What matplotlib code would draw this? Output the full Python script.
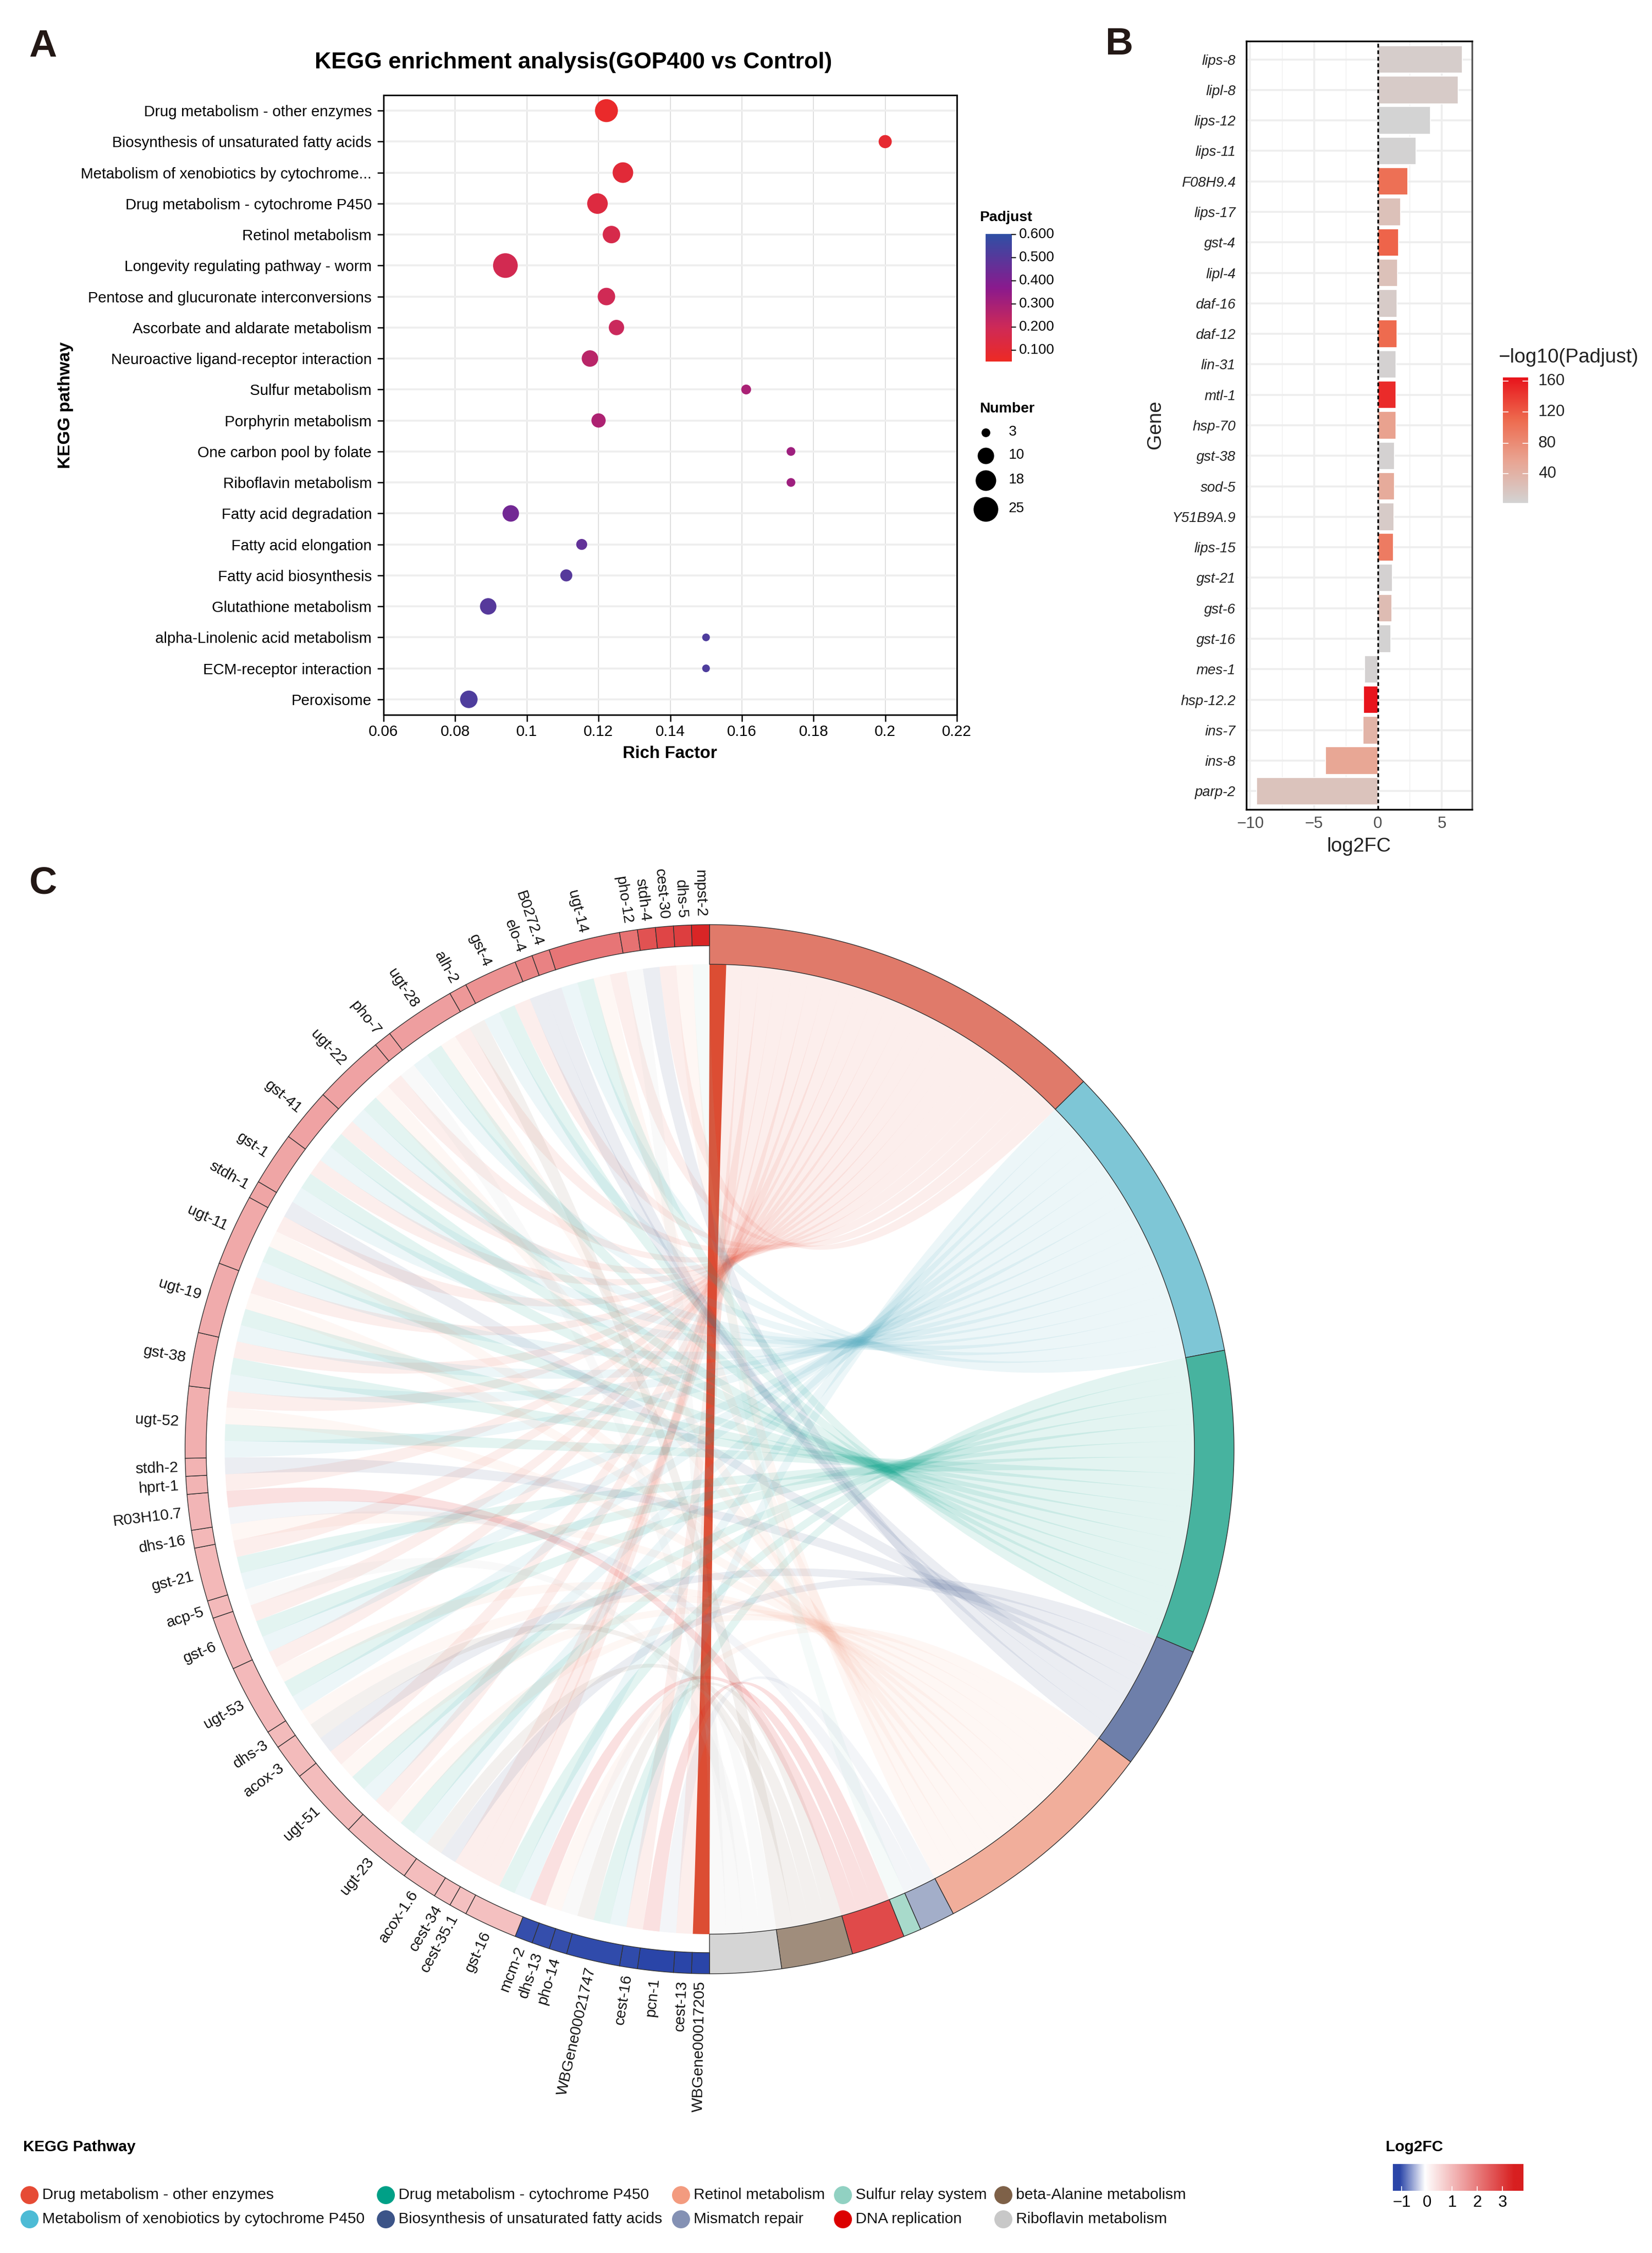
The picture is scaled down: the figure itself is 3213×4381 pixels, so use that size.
import numpy as np
import matplotlib
matplotlib.use("Agg")
import matplotlib.pyplot as plt
from matplotlib.colors import LinearSegmentedColormap, Normalize
from matplotlib.patches import PathPatch, Polygon
from matplotlib.path import Path

plt.rcParams["font.family"] = ["Liberation Sans", "DejaVu Sans"]

W, H = 3213, 4381

# panel A
kegg_terms = [
    "Drug metabolism - other enzymes", "Biosynthesis of unsaturated fatty acids",
    "Metabolism of xenobiotics by cytochrome...", "Drug metabolism - cytochrome P450",
    "Retinol metabolism", "Longevity regulating pathway - worm",
    "Pentose and glucuronate interconversions", "Ascorbate and aldarate metabolism",
    "Neuroactive ligand-receptor interaction", "Sulfur metabolism", "Porphyrin metabolism",
    "One carbon pool by folate", "Riboflavin metabolism", "Fatty acid degradation",
    "Fatty acid elongation", "Fatty acid biosynthesis", "Glutathione metabolism",
    "alpha-Linolenic acid metabolism", "ECM-receptor interaction", "Peroxisome",
]
rich_factor = [0.1222, 0.2, 0.1268, 0.1197, 0.1236, 0.094, 0.1222, 0.125, 0.1176, 0.1612,
               0.12, 0.1737, 0.1737, 0.0955, 0.1153, 0.111, 0.0892, 0.15, 0.15, 0.0838]
number = [22, 7, 18, 18, 12, 25, 12, 9, 10, 4, 8, 3, 3, 10, 5, 6, 10, 2, 2, 12]
padjust = [0.07, 0.09, 0.11, 0.13, 0.16, 0.18, 0.19, 0.21, 0.25, 0.29,
           0.28, 0.32, 0.32, 0.43, 0.47, 0.5, 0.5, 0.52, 0.52, 0.52]
number_legend = [3, 10, 18, 25]
number_sizes_px = [17, 32, 40, 48]
padj_ticks = [0.6, 0.5, 0.4, 0.3, 0.2, 0.1]

# panel B
genes_b = ["lips-8", "lipl-8", "lips-12", "lips-11", "F08H9.4", "lips-17", "gst-4", "lipl-4",
           "daf-16", "daf-12", "lin-31", "mtl-1", "hsp-70", "gst-38", "sod-5", "Y51B9A.9",
           "lips-15", "gst-21", "gst-6", "gst-16", "mes-1", "hsp-12.2", "ins-7", "ins-8", "parp-2"]
log2fc_b = [6.6, 6.3, 4.1, 2.97, 2.34, 1.77, 1.63, 1.54, 1.51, 1.51, 1.4, 1.43, 1.4, 1.31, 1.29,
            1.26, 1.2, 1.14, 1.11, 1.0, -1.06, -1.14, -1.17, -4.11, -9.5]
neglog_b = [10, 12, 3, 4, 105, 25, 115, 25, 12, 110, 5, 150, 60, 5, 50, 12, 95, 5, 30, 4, 5, 165, 40,
            55, 22]

# panel C
pathways = ["Drug metabolism - other enzymes", "Metabolism of xenobiotics by cytochrome P450",
            "Drug metabolism - cytochrome P450", "Biosynthesis of unsaturated fatty acids",
            "Retinol metabolism", "Mismatch repair", "Sulfur relay system", "DNA replication",
            "beta-Alanine metabolism", "Riboflavin metabolism"]
pathway_colors = ["#E64B35", "#4DBBD5", "#00A087", "#3C5488", "#F39B7F",
                  "#8491B4", "#91D1C2", "#DC0000", "#7E6148", "#BBBBBB"]
link_colors = ["#E64B35", "#4DA8BE", "#00A087", "#3C5488", "#F39B7F",
               "#8491B4", "#91D1C2", "#DC0000", "#7E6148", "#BBBBBB"]
link_alpha = [0.09, 0.10, 0.11, 0.10, 0.08, 0.09, 0.09, 0.12, 0.09, 0.08]
ring_colors = ["#E07A6A", "#7EC6D6", "#47B39F", "#6E7FAA", "#F1AE9B",
               "#A3AEC9", "#A8DACB", "#E04A4A", "#A08D7C", "#D5D5D5"]

UGT = [1, 2, 4, 0]
GST = [1, 2, 0]
# genes clockwise from the bottom of the circle
chord_genes = ["WBGene00017205", "cest-13", "pcn-1", "cest-16", "WBGene00021747", "pho-14", "dhs-13",
               "mcm-2", "gst-16", "cest-35.1", "cest-34", "acox-1.6", "ugt-23", "ugt-51", "acox-3",
               "dhs-3", "ugt-53", "gst-6", "acp-5", "gst-21", "dhs-16", "R03H10.7", "hprt-1", "stdh-2",
               "ugt-52", "gst-38", "ugt-19", "ugt-11", "stdh-1", "gst-1", "gst-41", "ugt-22", "pho-7",
               "ugt-28", "alh-2", "gst-4", "elo-4", "B0272.4", "ugt-14", "pho-12", "stdh-4", "cest-30",
               "dhs-5", "mpst-2"]
chord_log2fc = [-1.15, -1.0, -1.0, -0.97, -0.97, -0.95, -0.95, -0.95, 1.0, 1.0, 1.02, 1.03, 1.05, 1.05,
                1.08, 1.08, 1.1, 1.1, 1.1, 1.12, 1.12, 1.15, 1.18, 1.2, 1.25, 1.3, 1.3, 1.35, 1.4, 1.4,
                1.45, 1.45, 1.5, 1.5, 1.6, 1.7, 1.9, 1.95, 2.15, 2.2, 2.7, 2.9, 3.0, 3.4]
chord_links = [[0], [0], [5, 7], [0], [1, 2, 8], [9], [4], [7], GST, [0], [0], [3, 8], UGT, UGT, [3, 8],
               [4], UGT, GST, [9], GST, [4], [5, 7], [0], [3], UGT, GST, UGT, UGT, [3], GST, GST, UGT,
               [9], UGT, [8], GST, [3], [3], UGT, [9], [3], [0], [4], [6]]
log2fc_ticks = [-1, 0, 1, 2, 3]

legend_rows = [[0, 2, 4, 6, 8], [1, 3, 5, 7, 9]]
legend_x = [57, 750, 1324, 1639, 1951]
legend_y = [4268, 4315]


def px_axes(fig, x0, y0, x1, y1):
    return fig.add_axes([x0 / W, 1 - y1 / H, (x1 - x0) / W, (y1 - y0) / H])


def draw_panel_a(fig, overlay):
    ax = px_axes(fig, 746, 185, 1861, 1390)
    cmap = LinearSegmentedColormap.from_list(
        "padj", [(0, "#EE2A24"), (0.27, "#CE2A58"), (0.58, "#8A1A8E"), (1, "#2F50A5")])
    norm = Normalize(0.05, 0.6)
    ys = np.arange(len(kegg_terms))
    diam = np.interp(number, [2] + number_legend, [15] + number_sizes_px) * 72 / 300
    ax.scatter(rich_factor, ys, s=diam ** 2, c=cmap(norm(padjust)), linewidths=0, zorder=3)
    ax.set_xlim(0.06, 0.22)
    ax.set_ylim(len(kegg_terms) - 0.5, -0.5)
    ax.set_yticks(ys)
    ax.set_yticklabels(kegg_terms, fontsize=7.1)
    ax.set_xticks([0.06, 0.08, 0.1, 0.12, 0.14, 0.16, 0.18, 0.2, 0.22])
    ax.set_xticklabels(["0.06", "0.08", "0.1", "0.12", "0.14", "0.16", "0.18", "0.2", "0.22"], fontsize=7.1)
    ax.tick_params(length=3, width=0.6, pad=2.5)
    ax.tick_params(axis="x", pad=1.5)
    ax.grid(axis="x", color="#DDDDDD", lw=0.45, zorder=0)
    ax.grid(axis="y", color="#EEEEEE", lw=0.9, zorder=0)
    ax.set_axisbelow(True)
    for s in ax.spines.values():
        s.set_linewidth(0.7)

    overlay.text(1115, 121, "KEGG enrichment analysis(GOP400 vs Control)", fontsize=10.7,
                 fontweight="bold", ha="center", va="center")
    overlay.text(127, 788, "KEGG pathway", fontsize=8.2, fontweight="bold", rotation=90,
                 ha="center", va="center")
    overlay.text(1303, 1465, "Rich Factor", fontsize=8, fontweight="bold", ha="center", va="center")

    overlay.text(1905, 423, "Padjust", fontsize=6.8, fontweight="bold", ha="left", va="center")
    grad = np.linspace(0.6, 0.05, 256).reshape(-1, 1)
    overlay.imshow(grad, cmap=cmap, norm=norm, extent=(1917, 1968, 703, 455), aspect="auto", zorder=2)
    for t in padj_ticks:
        y = 456 + (0.6 - t) * 450
        overlay.plot([1968, 1975], [y, y], color="black", lw=0.5)
        overlay.text(1982, y, f"{t:.3f}", fontsize=6.6, ha="left", va="center")

    overlay.text(1905, 795, "Number", fontsize=6.8, fontweight="bold", ha="left", va="center")
    for n, d, y in zip(number_legend, number_sizes_px, [841, 886, 934, 990]):
        overlay.scatter([1917], [y], s=(d * 72 / 300) ** 2, color="black", linewidths=0)
        overlay.text(1962, y - 1, str(n), fontsize=6.6, ha="left", va="center")


def draw_panel_b(fig, overlay):
    ax = px_axes(fig, 2424, 80, 2863, 1574)
    cmap = LinearSegmentedColormap.from_list("nl", ["#D3D3D3", "#E9A593", "#EE6A4E", "#E8141C"])
    norm = Normalize(3, 165)
    ys = np.arange(len(genes_b))
    ax.barh(ys, log2fc_b, height=0.9, color=cmap(norm(neglog_b)), edgecolor="white", lw=0.4, zorder=2)
    ax.axvline(0, color="black", ls=(0, (2.2, 1.6)), lw=0.8, zorder=4)
    ax.set_xlim(-10.3, 7.37)
    ax.set_ylim(len(genes_b) - 0.4, -0.6)
    ax.set_yticks(ys)
    ax.set_yticklabels(genes_b, fontsize=6.6, style="italic", color="#222222")
    ax.set_xticks([-10, -5, 0, 5])
    ax.tick_params(axis="x", labelsize=7.5, labelcolor="#4D4D4D", length=0, pad=3)
    ax.tick_params(axis="y", length=0, pad=5)
    ax.grid(color="#EEEEEE", lw=0.9, zorder=0)
    ax.set_xticks([-7.5, -2.5, 2.5], minor=True)
    ax.grid(which="minor", axis="x", color="#F4F4F4", lw=0.5, zorder=0)
    ax.tick_params(which="minor", length=0)
    ax.set_axisbelow(True)
    for s in ax.spines.values():
        s.set_linewidth(0.8)
    ax.spines["right"].set_color("#555555")

    overlay.text(2643, 1646, "log2FC", fontsize=9.3, ha="center", va="center", color="#222222")
    overlay.text(2247, 826, "Gene", fontsize=9.3, rotation=90, ha="center", va="center", color="#222222")
    overlay.text(2914, 695, "\u2212log10(Padjust)", fontsize=9.3, ha="left", va="center", color="#222222")
    grad = np.linspace(165, 3, 256).reshape(-1, 1)
    overlay.imshow(grad, cmap=cmap, norm=norm, extent=(2923, 2972, 978, 734), aspect="auto", zorder=2)
    for t, y in zip([160, 120, 80, 40], [741, 801, 862, 921]):
        overlay.plot([2923, 2933], [y, y], color="white", lw=0.4, zorder=3)
        overlay.plot([2962, 2972], [y, y], color="white", lw=0.4, zorder=3)
        overlay.text(2992, y, str(t), fontsize=7.5, ha="left", va="center", color="#222222")


def polar(theta, r):
    t = np.radians(theta)
    return 1380 + r * np.sin(t), 2818 - r * np.cos(t)


def ring_segment(ax, a0, a1, r0, r1, color):
    th = np.linspace(a0, a1, max(4, int(abs(a1 - a0) * 3)))
    x0, y0 = polar(th, r1)
    x1, y1 = polar(th[::-1], r0)
    pts = np.column_stack([np.r_[x0, x1], np.r_[y0, y1]])
    ax.add_patch(Polygon(pts, closed=True, facecolor=color, edgecolor="#333333", lw=0.35, zorder=5))


def ribbon(ax, a0, a1, b0, b1, r, color, alpha, zorder=1):
    cx, cy = polar(0, 0)
    verts, codes = [], []
    th_a = np.linspace(a0, a1, 6)
    th_b = np.linspace(b0, b1, 6)
    for i, t in enumerate(th_a):
        verts.append(polar(t, r))
        codes.append(Path.MOVETO if i == 0 else Path.LINETO)
    verts += [(cx, cy), polar(b0, r)]
    codes += [Path.CURVE3, Path.CURVE3]
    for t in th_b[1:]:
        verts.append(polar(t, r))
        codes.append(Path.LINETO)
    verts += [(cx, cy), polar(a0, r)]
    codes += [Path.CURVE3, Path.CURVE3]
    ax.add_patch(PathPatch(Path(verts, codes), facecolor=color, edgecolor="none", alpha=alpha, zorder=zorder))


def draw_panel_c(overlay):
    r_link, r_gene, r_out = 943, 979, 1020
    n_links = sum(len(v) for v in chord_links)
    unit = 180 / n_links
    counts = [sum(v.count(p) for v in chord_links) for p in range(len(pathways))]
    starts = np.r_[0, np.cumsum(counts)[:-1]] * unit

    fc_cmap = LinearSegmentedColormap.from_list(
        "fc", [(0, "#2A45A8"), (0.25 / 5.1, "#2A45A8"), (1.25 / 5.1, "#FFFFFF"), (4.75 / 5.1, "#D81F20"), (1, "#D81F20")])
    fc_norm = Normalize(-1.25, 3.85)

    for p, (s, c) in enumerate(zip(starts, counts)):
        ring_segment(overlay, s, s + c * unit, r_link, r_out, ring_colors[p])

    used = [0] * len(pathways)
    theta = 180.0
    for gene, fc, links in zip(chord_genes, chord_log2fc, chord_links):
        t0 = theta
        for p in links:
            a0 = starts[p] + used[p] * unit
            used[p] += 1
            if gene == "WBGene00017205":
                ribbon(overlay, a0, a0 + unit, theta, theta + unit, r_link, "#DC4D33", 1.0, zorder=1)
            else:
                ribbon(overlay, a0, a0 + unit, theta, theta + unit, r_link, link_colors[p], link_alpha[p], zorder=2)
            theta += unit
        ring_segment(overlay, t0, theta, r_gene, r_out, fc_cmap(fc_norm(fc)))
        mid = (t0 + theta) / 2
        x, y = polar(mid, r_out + 14)
        overlay.text(x, y, gene, fontsize=7.2, rotation=270 - mid, rotation_mode="anchor",
                     ha="right", va="center", color="#111111")


def draw_legends(overlay):
    overlay.text(45, 4175, "KEGG Pathway", fontsize=7.2, fontweight="bold", ha="left", va="center")
    for row, y in zip(legend_rows, legend_y):
        for p, x in zip(row, legend_x):
            overlay.scatter([x], [y], s=(35 * 72 / 300) ** 2, color=pathway_colors[p] if p != 9 else "#C8C8C8",
                            linewidths=0)
            overlay.text(x + 25, y, pathways[p], fontsize=7.2, ha="left", va="center", color="#111111")

    overlay.text(2695, 4175, "Log2FC", fontsize=7.2, fontweight="bold", ha="left", va="center")
    cmap = LinearSegmentedColormap.from_list(
        "fc", [(0, "#2A45A8"), (0.05, "#2A45A8"), (1.25 / 5.1, "#FFFFFF"), (4.75 / 5.1, "#D81F20"), (1, "#D81F20")])
    grad = np.linspace(0, 1, 256).reshape(1, -1)
    overlay.imshow(grad, cmap=cmap, extent=(2709, 2963, 4260, 4208), aspect="auto", zorder=2)
    for t in log2fc_ticks:
        x = 2775 + t * 49
        overlay.plot([x, x], [4252, 4260], color="white", lw=0.4, zorder=3)
        overlay.text(x, 4283, str(t) if t >= 0 else f"\u2212{-t}", fontsize=7.5, ha="center", va="center")


def main():
    fig = plt.figure(figsize=(W / 300, H / 300), dpi=300)
    overlay = fig.add_axes([0, 0, 1, 1], zorder=5)
    overlay.patch.set_alpha(0)

    draw_panel_a(fig, overlay)
    draw_panel_b(fig, overlay)
    draw_panel_c(overlay)
    draw_legends(overlay)

    for letter, x, y in [("A", 83, 90), ("B", 2177, 87), ("C", 84, 1718)]:
        overlay.text(x, y, letter, fontsize=18, fontweight="bold", ha="center", va="center", color="#231815")

    overlay.set_xlim(0, W)
    overlay.set_ylim(H, 0)
    overlay.axis("off")
    fig.savefig("out.png", dpi=300)


if __name__ == "__main__":
    main()
